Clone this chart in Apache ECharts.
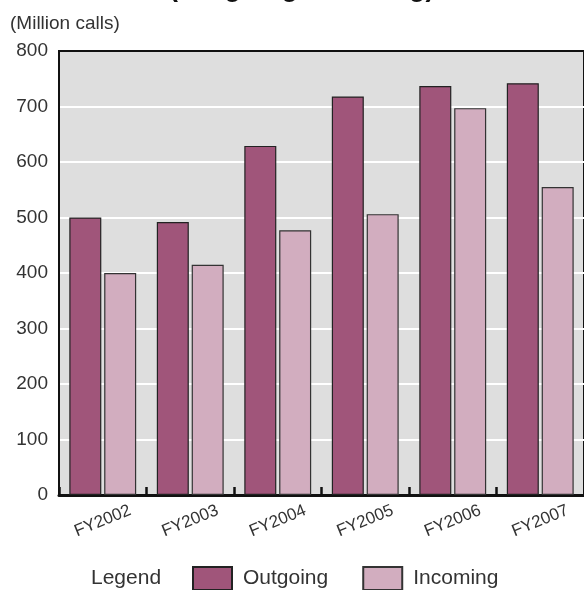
<!DOCTYPE html>
<html>
<head>
<meta charset="utf-8">
<script src="https://cdn.jsdelivr.net/npm/echarts@6/dist/echarts.min.js"></script>
<style>
html,body{margin:0;padding:0;background:#fff;}
#chart{width:584px;height:590px;}
</style>
</head>
<body>
<div id="chart"></div>
<script>
var categories = ['FY2002', 'FY2003', 'FY2004', 'FY2005', 'FY2006', 'FY2007'];
var outgoing = [500, 492, 629, 718, 737, 742];
var incoming = [400, 415, 477, 506, 697, 555];
var seriesNames = ['Outgoing', 'Incoming'];
var titleText = '(Outgoing/Incoming)';
var unitText = '(Million calls)';
var legendTitle = 'Legend';

var FONT = '"Liberation Sans", Arial, Helvetica, sans-serif';
var chart = echarts.init(document.getElementById('chart'), null, {renderer: 'canvas'});
chart.setOption({
  animation: false,
  backgroundColor: '#ffffff',
  textStyle: {fontFamily: FONT},
  grid: {
    left: 59, top: 51, right: -3, bottom: 95,
    show: true, backgroundColor: '#dedede',
    borderColor: '#111', borderWidth: 2,
    containLabel: false
  },
  graphic: [
    {type: 'text', x: 169, y: 2.5,
     style: {text: titleText, font: 'bold 27px ' + FONT, fill: '#111', verticalAlign: 'bottom', align: 'left'}},
    {type: 'text', left: 10, top: 14,
     style: {text: unitText, font: '19px ' + FONT, fill: '#333'}},
    {type: 'text', left: 91, top: 567,
     style: {text: legendTitle, font: '21px ' + FONT, fill: '#333', lineHeight: 23, verticalAlign: 'top'}}
  ],
  legend: {
    left: 192, top: 566, padding: 0,
    itemWidth: 39, itemHeight: 23, itemGap: 34,
    icon: 'rect',
    textStyle: {fontSize: 21, color: '#333', fontFamily: FONT, padding: [0, 0, 0, 6]},
    data: seriesNames
  },
  xAxis: {
    type: 'category',
    data: categories,
    boundaryGap: true,
    axisLine: {show: true, lineStyle: {color: '#111', width: 3}},
    axisTick: {show: true, inside: true, length: 8, interval: 0, lineStyle: {color: '#111', width: 2.5}},
    axisLabel: {
      interval: 0, rotate: 22, margin: 26,
      align: 'center', verticalAlign: 'middle',
      fontSize: 17, color: '#333', fontFamily: FONT
    },
    splitLine: {show: false}
  },
  yAxis: {
    type: 'value',
    min: 0, max: 800, interval: 100,
    axisLine: {show: true, lineStyle: {color: '#111', width: 2}},
    axisTick: {show: false},
    axisLabel: {fontSize: 19, color: '#333', margin: 11, fontFamily: FONT},
    splitLine: {show: true, showMinLine: false, showMaxLine: false, lineStyle: {color: '#ffffff', width: 2}}
  },
  series: [
    {
      name: seriesNames[0], type: 'bar', data: outgoing,
      barWidth: 32, barGap: '9%',
      itemStyle: {color: '#a0557a', borderColor: '#222', borderWidth: 1.2}
    },
    {
      name: seriesNames[1], type: 'bar', data: incoming,
      barWidth: 32, barGap: '9%',
      itemStyle: {color: '#d2adbf', borderColor: '#333', borderWidth: 1.2}
    }
  ]
});
</script>
</body>
</html>
